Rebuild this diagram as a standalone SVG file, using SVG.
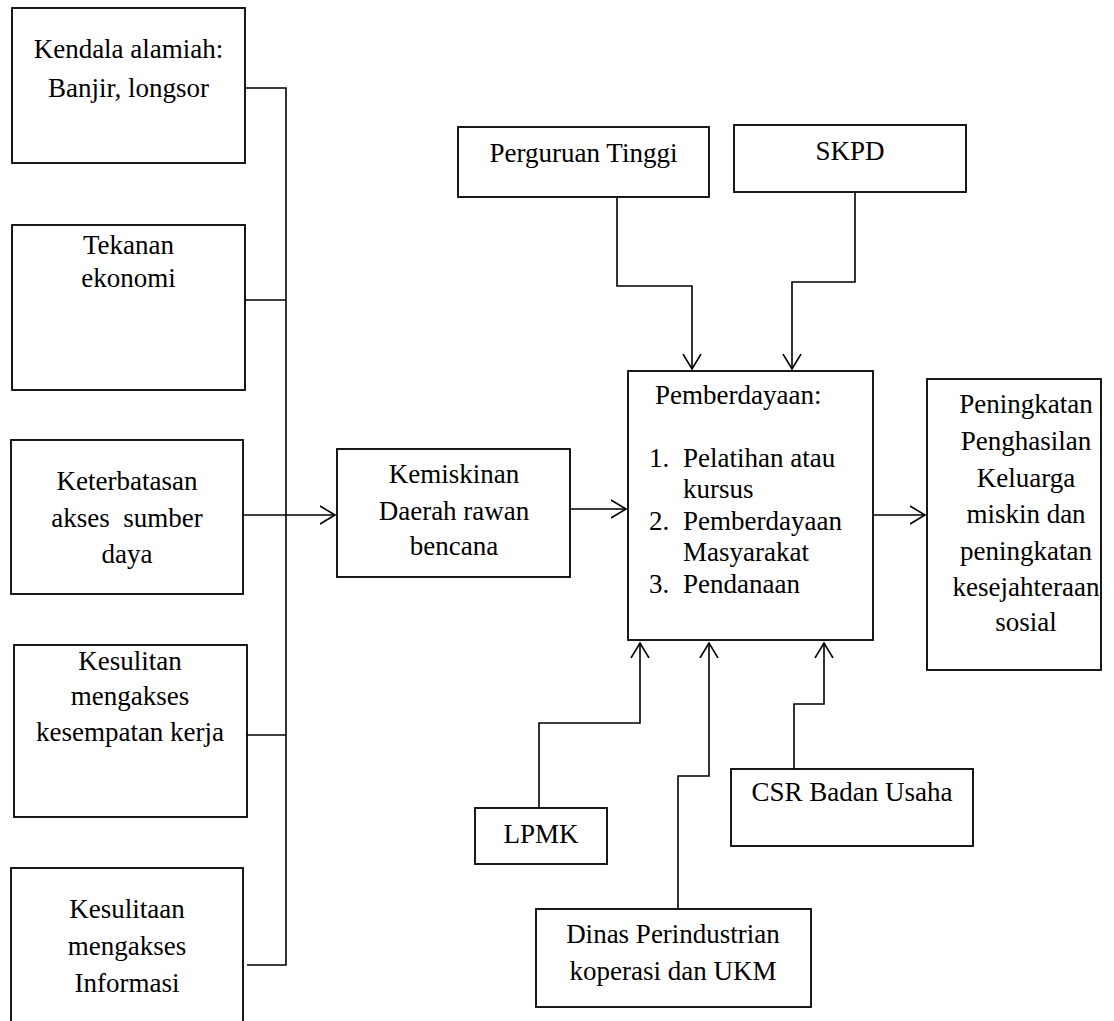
<svg xmlns="http://www.w3.org/2000/svg" width="1114" height="1021" viewBox="0 0 1114 1021">
  <style>
    .box { fill: #fff; stroke: #000; stroke-width: 1.8; }
    .t { font-family: "Liberation Serif", "Times New Roman", serif; font-size: 27px; fill: #000; }
    .c { text-anchor: middle; }
    .ln { fill: none; stroke: #000; stroke-width: 1.6; }
    .arr { fill: none; stroke: #000; stroke-width: 1.6; marker-end: url(#open); }
  </style>
  <defs>
    <marker id="open" markerWidth="20" markerHeight="22" refX="15" refY="10" orient="auto" markerUnits="userSpaceOnUse">
      <path d="M0,1 L15,10 L0,19" fill="none" stroke="#000" stroke-width="1.6"/>
    </marker>
  </defs>
  <rect width="1114" height="1021" fill="#fff"/>

  <!-- connectors -->
  <g id="connectors">
    <polyline class="ln" points="245,88 286,88 286,965 247,965"/>
    <line class="ln" x1="245" y1="300" x2="286" y2="300"/>
    <line class="ln" x1="247" y1="735" x2="286" y2="735"/>
    <line class="arr" x1="239" y1="515" x2="335" y2="515"/>
    <line class="arr" x1="570" y1="509" x2="626" y2="509"/>
    <line class="arr" x1="873" y1="515" x2="925" y2="515"/>
    <polyline class="arr" points="617,198 617,286 692,286 692,369"/>
    <polyline class="arr" points="855,192 855,282 792,282 792,369"/>
    <polyline class="arr" points="539,808 539,723 640,723 640,643"/>
    <polyline class="arr" points="678,909 678,776 709,776 709,643"/>
    <polyline class="arr" points="794,769 794,704 824,704 824,643"/>
  </g>

  <g id="kendala">
    <rect class="box" x="12" y="8" width="233" height="155"/>
    <text class="t c" x="128.5" y="58">Kendala alamiah:</text>
    <text class="t c" x="128.5" y="97">Banjir, longsor</text>
  </g>
  <g id="tekanan">
    <rect class="box" x="12" y="225" width="233" height="165"/>
    <text class="t c" x="128.5" y="254">Tekanan</text>
    <text class="t c" x="128.5" y="287">ekonomi</text>
  </g>
  <g id="keterbatasan">
    <rect class="box" x="11" y="440" width="232" height="154"/>
    <text class="t c" x="127" y="490">Keterbatasan</text>
    <text class="t c" x="127" y="527" xml:space="preserve">akses  sumber</text>
    <text class="t c" x="127" y="563">daya</text>
  </g>
  <g id="kesulitan-kerja">
    <rect class="box" x="14" y="645" width="233" height="172"/>
    <text class="t c" x="130" y="670">Kesulitan</text>
    <text class="t c" x="130" y="705">mengakses</text>
    <text class="t c" x="130" y="741">kesempatan kerja</text>
  </g>
  <g id="kesulitan-informasi">
    <rect class="box" x="11" y="868" width="232" height="160"/>
    <text class="t c" x="127" y="918">Kesulitaan</text>
    <text class="t c" x="127" y="955">mengakses</text>
    <text class="t c" x="127" y="992">Informasi</text>
  </g>

  <g id="kemiskinan">
    <rect class="box" x="337" y="449" width="233" height="128"/>
    <text class="t c" x="454" y="483">Kemiskinan</text>
    <text class="t c" x="454" y="520">Daerah rawan</text>
    <text class="t c" x="454" y="555">bencana</text>
  </g>

  <g id="perguruan-tinggi">
    <rect class="box" x="458" y="127" width="251" height="70"/>
    <text class="t c" x="583.5" y="162">Perguruan Tinggi</text>
  </g>
  <g id="skpd">
    <rect class="box" x="734" y="125" width="232" height="67"/>
    <text class="t c" x="850" y="160">SKPD</text>
  </g>

  <g id="pemberdayaan">
    <rect class="box" x="628" y="371" width="245" height="269"/>
    <text class="t" x="655" y="404">Pemberdayaan:</text>
    <text class="t" x="649" y="467">1.</text>
    <text class="t" x="683" y="467">Pelatihan atau</text>
    <text class="t" x="683" y="498">kursus</text>
    <text class="t" x="649" y="530">2.</text>
    <text class="t" x="683" y="530">Pemberdayaan</text>
    <text class="t" x="683" y="561">Masyarakat</text>
    <text class="t" x="649" y="593">3.</text>
    <text class="t" x="683" y="593">Pendanaan</text>
  </g>

  <g id="peningkatan">
    <rect class="box" x="927" y="379" width="174" height="291"/>
    <text class="t c" x="1026" y="413">Peningkatan</text>
    <text class="t c" x="1026" y="450">Penghasilan</text>
    <text class="t c" x="1026" y="487">Keluarga</text>
    <text class="t c" x="1026" y="523">miskin dan</text>
    <text class="t c" x="1026" y="560">peningkatan</text>
    <text class="t c" x="1026" y="596">kesejahteraan</text>
    <text class="t c" x="1026" y="631">sosial</text>
  </g>

  <g id="lpmk">
    <rect class="box" x="475" y="808" width="132" height="56"/>
    <text class="t c" x="541" y="843">LPMK</text>
  </g>
  <g id="csr">
    <rect class="box" x="731" y="769" width="242" height="77"/>
    <text class="t c" x="852" y="801">CSR Badan Usaha</text>
  </g>
  <g id="dinas">
    <rect class="box" x="536" y="909" width="275" height="98"/>
    <text class="t c" x="673" y="943">Dinas Perindustrian</text>
    <text class="t c" x="673" y="980">koperasi dan UKM</text>
  </g>
</svg>
